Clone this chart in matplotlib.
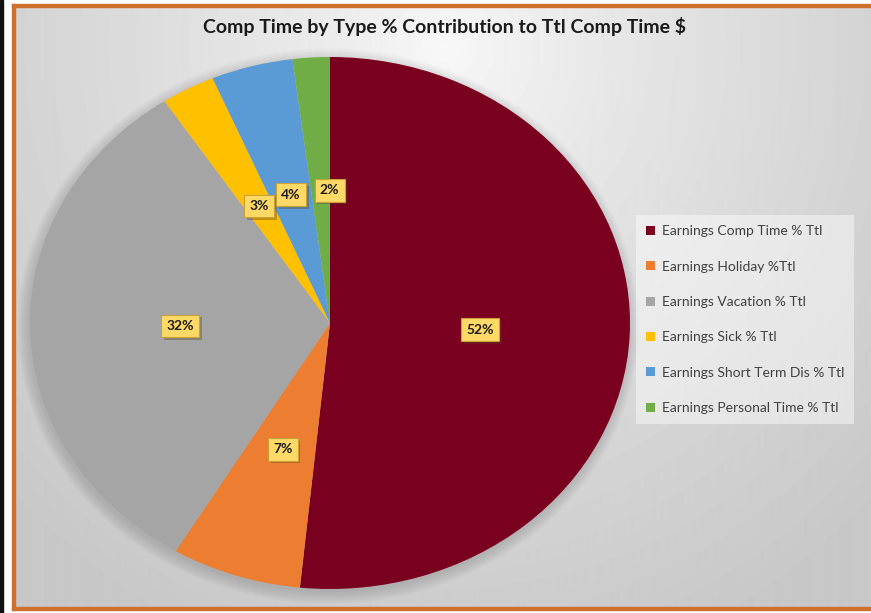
import numpy as np
import matplotlib.pyplot as plt
from matplotlib.patches import Rectangle, Ellipse
import matplotlib.patheffects as pe

# data
labels = ['Earnings Comp Time % Ttl', 'Earnings Holiday %Ttl', 'Earnings Vacation % Ttl',
          'Earnings Sick % Ttl', 'Earnings Short Term Dis % Ttl', 'Earnings Personal Time % Ttl']
shares = [51.6, 7.0, 32.1, 2.9, 4.4, 2.0]
colors = ['#7a001f', '#ed7d31', '#a5a5a5', '#ffc000', '#5b9bd5', '#70ad47']
title = 'Comp Time by Type % Contribution to Ttl Comp Time $'

plt.rcParams['font.family'] = ['Lato', 'DejaVu Sans']

W, H = 871, 613
fig = plt.figure(figsize=(W / 100, H / 100), dpi=100)
fig.patch.set_facecolor('white')

def fx(px):
    return px / W

def fy(py):
    return 1 - py / H

# chart area with radial gradient
bg = fig.add_axes([fx(14), fy(608), fx(W) - fx(14), fy(6) - fy(608)])
yy, xx = np.mgrid[0:602, 0:857]
d = np.sqrt(((xx - 430) / 600.0) ** 2 + ((yy - 40) / 640.0) ** 2)
d = np.clip(d, 0, 1)
shade = 0.975 - 0.19 * d ** 0.8
bg.imshow(shade, cmap='gray', vmin=0, vmax=1, aspect='auto', extent=[0, 1, 0, 1], origin='upper')
bg.set_xlim(0, 1)
bg.set_ylim(0, 1)
bg.axis('off')

# outer borders
fig.patches.append(Rectangle((0, 0), fx(3), 1, transform=fig.transFigure, color='#111111', zorder=5))
fig.patches.append(Rectangle((fx(12), fy(610)), fx(2.5), fy(4) - fy(610), transform=fig.transFigure,
                             color='#d0702e', zorder=5))
fig.patches.append(Rectangle((fx(12), fy(6.5)), 1, fy(4) - fy(6.5), transform=fig.transFigure,
                             color='#d0702e', zorder=5))
fig.patches.append(Rectangle((fx(12), fy(610)), 1, fy(607) - fy(610), transform=fig.transFigure,
                             color='#d0702e', zorder=5))

fig.text(fx(444), fy(27), title, ha='center', va='center', fontsize=14, fontweight='bold', color='#1a1a1a')

# pie (stretched ellipse like the original)
ax = fig.add_axes([fx(30), fy(589), fx(630) - fx(30), fy(57) - fy(589)])
ax.patch.set_alpha(0)
for i in range(9):
    ax.add_patch(Ellipse((-0.006, -0.012), 2 + 0.009 * i, 2 + 0.011 * i, color='black',
                         alpha=0.016, lw=0, zorder=0, clip_on=False))
wedges, texts, autotexts = ax.pie(shares, colors=colors, startangle=90, counterclock=False,
                                  autopct='%.0f%%', pctdistance=0.5,
                                  wedgeprops=dict(linewidth=0),
                                  textprops=dict(fontsize=10, fontweight='bold', color='#1a1a1a'))
ax.set_aspect('auto')
ax.set_xlim(-1, 1)
ax.set_ylim(-1, 1)
autotexts[5].set_x(autotexts[5].get_position()[0] + 0.03)
for t in autotexts:
    t.set_bbox(dict(boxstyle='square,pad=0.38', fc='#ffd966', ec='#c9a13a', lw=0.8))
    t.get_bbox_patch().set_path_effects([pe.SimplePatchShadow(offset=(2, -2), alpha=0.35), pe.Normal()])

leg = fig.legend(wedges, labels, loc='upper left', bbox_to_anchor=(fx(636), fy(215)),
                 frameon=True, fancybox=False, framealpha=0.45, facecolor='white', edgecolor='none',
                 fontsize=10, handlelength=0.6, handleheight=0.6, handletextpad=0.5,
                 labelspacing=1.68, borderpad=0.75, borderaxespad=0)
for t in leg.get_texts():
    t.set_color('#404040')

fig.savefig('out.png', dpi=100)
